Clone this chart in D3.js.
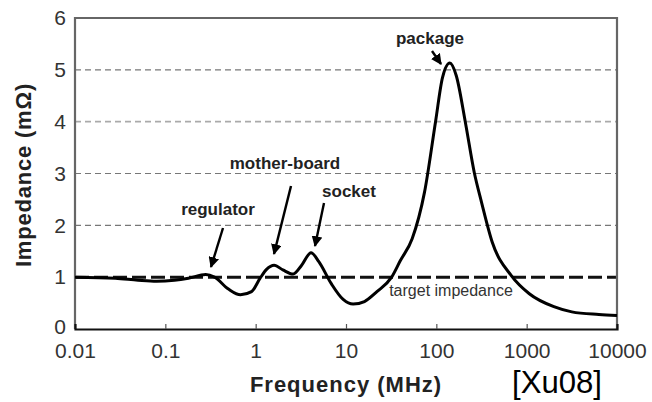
<!DOCTYPE html>
<html>
<head>
<meta charset="utf-8">
<script src="https://cdn.jsdelivr.net/npm/d3@7"></script>
<style>
  html, body { margin: 0; padding: 0; background: #fff; }
  svg { display: block; }
  text { font-family: "Liberation Sans", Arial, sans-serif; }
</style>
</head>
<body>
<svg id="chart" width="652" height="402"></svg>
<script>
// ---- data ----
const freqMHz = [0.01, 0.028, 0.05, 0.08, 0.126, 0.18, 0.28, 0.35, 0.5, 0.68, 0.9, 1.12, 1.32, 1.6, 2.0, 2.6, 3.2, 4.1, 5.0, 6.9, 9.3, 12, 16, 22, 32, 40, 54, 74, 98, 117, 141, 166, 209, 263, 316, 417, 676, 1070, 2000, 3160, 6300, 10000];
const impedance = [1.0, 0.98, 0.94, 0.92, 0.94, 0.98, 1.05, 1.0, 0.77, 0.66, 0.72, 0.98, 1.15, 1.23, 1.14, 1.06, 1.22, 1.47, 1.3, 0.87, 0.57, 0.48, 0.53, 0.72, 1.0, 1.32, 1.74, 2.64, 4.0, 4.85, 5.13, 4.89, 4.0, 3.02, 2.45, 1.67, 1.03, 0.68, 0.43, 0.33, 0.28, 0.26];
const xTicks = [0.01, 0.1, 1, 10, 100, 1000, 10000];
const xTickLabels = ["0.01", "0.1", "1", "10", "100", "1000", "10000"];
const yTicks = [0, 1, 2, 3, 4, 5, 6];
const gridValues = [2, 3, 4, 5];
const targetImpedance = 1;
const annotations = [
  { text: "package", f: 141, z: 5.13 },
  { text: "mother-board", f: 1.6, z: 1.23 },
  { text: "socket", f: 4.1, z: 1.47 },
  { text: "regulator", f: 0.28, z: 1.05 }
];

// ---- layout ----
const svg = d3.select("#chart");
const x = d3.scaleLog().domain([0.01, 10000]).range([75, 617]);
const y = d3.scaleLinear().domain([0, 6]).range([329, 18]);

// gridlines
svg.append("g").selectAll("line").data(gridValues).join("line")
  .attr("x1", x(0.01)).attr("x2", x(10000))
  .attr("y1", d => y(d)).attr("y2", d => y(d))
  .attr("stroke", d => d === 4 ? "#aaa" : "#777")
  .attr("stroke-width", d => d === 4 ? 1.8 : 1.2)
  .attr("stroke-dasharray", "6,4");

// target impedance dashed line
svg.append("line")
  .attr("x1", x(0.01)).attr("x2", x(10000))
  .attr("y1", y(targetImpedance)).attr("y2", y(targetImpedance))
  .attr("stroke", "#111").attr("stroke-width", 3)
  .attr("stroke-dasharray", "14,5");

// frame (top/right/left gray, bottom black)
svg.append("path")
  .attr("d", `M${x(0.01)},${y(0)} V${y(6)} H${x(10000)} V${y(0)}`)
  .attr("fill", "none").attr("stroke", "#666").attr("stroke-width", 2.2);

// x axis
const xAxis = svg.append("g").attr("transform", `translate(0,${y(0)})`)
  .call(d3.axisBottom(x).tickValues(xTicks)
    .tickFormat((d, i) => xTickLabels[i]).tickSize(-5).tickPadding(14));
xAxis.select(".domain").attr("stroke", "#111").attr("stroke-width", 2.2);
xAxis.selectAll(".tick line").attr("stroke", "#555").attr("stroke-width", 1.2);
xAxis.selectAll(".tick text").attr("font-size", 21).attr("fill", "#333")
  .attr("font-family", "Liberation Sans, Arial, sans-serif");
xAxis.selectAll(".tick").filter(d => d === 0.01 || d === 10000).select("line").remove();

// y axis
const yAxis = svg.append("g").attr("transform", `translate(${x(0.01)},0)`)
  .call(d3.axisLeft(y).tickValues(yTicks).tickFormat(d3.format("d")).tickSize(0).tickPadding(9));
yAxis.select(".domain").remove();
yAxis.selectAll(".tick text").attr("font-size", 21).attr("fill", "#333")
  .attr("font-family", "Liberation Sans, Arial, sans-serif");
yAxis.selectAll(".tick").filter(d => d === 0).select("text").attr("dy", "0.22em");

// curve
const line = d3.line()
  .x((d, i) => x(freqMHz[i]))
  .y(d => y(d))
  .curve(d3.curveMonotoneX);
svg.append("path").datum(impedance)
  .attr("d", line)
  .attr("fill", "none").attr("stroke", "#000").attr("stroke-width", 3)
  .attr("stroke-linejoin", "round");

// arrows
const defs = svg.append("defs");
defs.append("marker").attr("id", "ah").attr("viewBox", "0 0 10 10")
  .attr("refX", 9).attr("refY", 5).attr("markerWidth", 4.5).attr("markerHeight", 4.5)
  .attr("markerUnits", "strokeWidth").attr("orient", "auto")
  .append("path").attr("d", "M0,0 L10,5 L0,10 Z").attr("fill", "#000");

// annotation label positions / arrow geometry
const labelPos = {
  "package":      { tx: 430, ty: 44, ax1: 432, ay1: 51, ax2: 441, ay2: 64 },
  "mother-board": { tx: 285, ty: 169, ax1: 291, ay1: 186, ax2: 274, ay2: 254 },
  "socket":       { tx: 349, ty: 197, ax1: 324, ay1: 203, ax2: 315, ay2: 246 },
  "regulator":    { tx: 218, ty: 215, ax1: 223, ay1: 228, ax2: 211, ay2: 267 }
};
annotations.forEach(a => {
  const p = labelPos[a.text];
  svg.append("text").attr("x", p.tx).attr("y", p.ty)
    .attr("text-anchor", "middle").attr("font-size", 17).attr("font-weight", "bold")
    .attr("fill", "#222").text(a.text);
  svg.append("line").attr("x1", p.ax1).attr("y1", p.ay1).attr("x2", p.ax2).attr("y2", p.ay2)
    .attr("stroke", "#000").attr("stroke-width", 2.4).attr("marker-end", "url(#ah)");
});

svg.append("text").attr("x", 451).attr("y", 296).attr("text-anchor", "middle")
  .attr("font-size", 16).attr("fill", "#333").text("target impedance");

// axis titles
svg.append("text").attr("x", 346).attr("y", 392).attr("text-anchor", "middle")
  .attr("font-size", 22).attr("font-weight", "bold").attr("letter-spacing", 1)
  .attr("fill", "#222").text("Frequency (MHz)");
svg.append("text").attr("transform", "translate(31,175) rotate(-90)")
  .attr("text-anchor", "middle").attr("font-size", 22).attr("font-weight", "bold")
  .attr("letter-spacing", 0.8).attr("fill", "#222").text("Impedance (mΩ)");

// source tag
svg.append("text").attr("x", 512).attr("y", 393)
  .attr("font-size", 32).attr("textLength", 90).attr("lengthAdjust", "spacingAndGlyphs")
  .attr("fill", "#000").text("[Xu08]");
</script>
</body>
</html>
